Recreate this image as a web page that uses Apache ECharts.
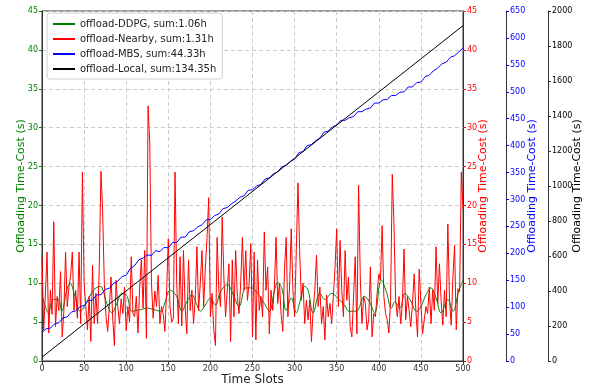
<!DOCTYPE html>
<html>
<head>
<meta charset="utf-8">
<script src="https://cdn.jsdelivr.net/npm/echarts@6/dist/echarts.min.js"></script>
<style>
  html, body { margin: 0; padding: 0; background: #fff; }
  #main { width: 593px; height: 388px; }
</style>
</head>
<body>
<div id="main"></div>
<script>
// legend names
const names = ['offload-DDPG, sum:1.06h', 'offload-Nearby, sum:1.31h', 'offload-MBS, sum:44.33h', 'offload-Local, sum:134.35h'];

// DDPG (green, left axis, s) read at these slots
const ddpgSlots = [0, 4, 7.5, 13.5, 19.4, 23.4, 29.4, 33.3, 39.3, 45.3, 53.2, 61, 69, 77, 83, 89, 95, 101, 107, 117, 125, 133, 141, 146, 152, 160, 166, 172, 178, 184, 188, 194, 200, 206, 212, 220, 228, 234, 242, 248, 256, 264, 270, 276, 280, 285, 290, 296, 302, 306, 312, 316, 322, 330, 336, 344, 351, 359, 365, 373, 383, 389, 395, 403, 409, 415, 419, 425, 431, 437, 445, 450, 456, 462, 468, 474, 482, 488, 495, 500];
const ddpgCost = [8.5, 7.0, 6.2, 7.9, 7.9, 6.4, 9.1, 10.0, 8.3, 6.4, 7.6, 9.1, 9.6, 7.4, 6.2, 7.4, 8.7, 8.3, 6.4, 6.6, 6.8, 6.6, 6.4, 7.5, 9.1, 8.3, 6.4, 7.6, 8.5, 7.2, 6.4, 7.2, 8.1, 7.2, 8.9, 9.8, 8.3, 7.0, 9.4, 9.4, 8.7, 7.4, 6.4, 9.0, 10.1, 9.3, 6.5, 8.1, 6.2, 7.5, 9.6, 9.1, 6.2, 8.7, 7.9, 8.7, 8.1, 7.2, 6.4, 6.4, 8.3, 7.6, 6.2, 10.4, 8.9, 6.8, 7.6, 6.8, 8.7, 7.9, 6.4, 7.0, 8.5, 9.4, 8.1, 6.2, 7.9, 6.4, 9.0, 10.4];

// Nearby (red, right axis, s), one value every 2 slots from 0 to 500
const nearbyStep = 2;
const nearbyCost = [
  13.4, 4.0, 8.5, 14.0, 3.6, 9.1, 6.0, 17.9, 4.4, 8.3, 6.5, 11.5, 3.1, 6.5, 14.0, 7.0, 9.5, 11.0, 14.0, 6.5,
  9.1, 5.5, 14.0, 4.8, 24.3, 10.0, 7.0, 4.0, 8.3, 2.5, 12.3, 4.8, 8.7, 4.8, 12.0, 24.4, 19.4, 10.0, 5.7, 3.8,
  7.0, 10.8, 5.5, 2.0, 10.4, 7.0, 4.8, 8.0, 6.1, 9.5, 3.9, 7.0, 5.0, 13.4, 6.1, 5.7, 8.3, 3.6, 9.5, 13.0,
  6.8, 14.2, 2.9, 32.8, 28.0, 10.0, 5.5, 9.0, 7.0, 11.0, 4.8, 7.0, 6.0, 3.8, 9.0, 15.7, 7.0, 5.0, 5.5, 24.3,
  10.0, 4.8, 13.4, 4.5, 14.2, 7.0, 3.5, 13.0, 6.5, 9.1, 4.8, 8.0, 14.7, 6.5, 10.0, 14.2, 7.0, 12.0, 15.9, 21.0,
  5.7, 8.7, 4.0, 2.0, 15.9, 9.1, 7.0, 18.5, 10.8, 5.7, 9.1, 12.5, 2.5, 13.0, 5.7, 14.2, 8.3, 6.1, 10.0, 15.9,
  9.1, 14.2, 7.8, 10.0, 15.1, 3.1, 14.0, 2.7, 13.0, 6.5, 8.3, 5.7, 16.6, 9.1, 12.1, 3.5, 9.1, 6.5, 9.5, 15.9,
  7.4, 10.0, 6.0, 3.8, 11.7, 15.9, 5.7, 9.5, 17.0, 9.1, 5.7, 14.2, 22.9, 14.2, 7.8, 10.0, 4.8, 7.8, 5.3, 7.8,
  2.5, 6.5, 9.1, 13.6, 7.0, 9.5, 4.8, 7.0, 2.7, 8.5, 5.7, 7.4, 4.8, 8.3, 12.0, 17.0, 7.0, 15.5, 9.1, 5.7,
  14.2, 7.8, 10.8, 4.4, 3.1, 8.3, 13.4, 3.5, 22.6, 10.8, 4.8, 8.3, 7.4, 4.0, 5.3, 12.1, 3.1, 6.1, 5.7, 8.7,
  11.2, 10.4, 17.4, 8.3, 6.1, 5.3, 3.6, 7.8, 24.0, 17.6, 7.8, 5.7, 8.3, 4.8, 7.4, 14.4, 5.3, 8.3, 6.5, 4.4,
  7.4, 11.2, 6.5, 3.1, 11.8, 7.4, 3.5, 5.3, 7.0, 6.1, 9.5, 4.8, 9.1, 6.5, 14.7, 7.4, 12.5, 7.8, 4.6, 9.1,
  5.7, 17.6, 7.8, 4.6, 10.8, 14.9, 4.0, 9.3, 8.9, 24.3, 19.5
];

// MBS (blue axis, s), one value every 5 slots
const mbsStep = 5;
const mbsCost = [
  53, 60, 61, 69, 71, 80, 82, 91, 93, 101, 103, 112, 113, 123, 123, 133, 135, 144, 148, 157,
  159, 172, 177, 188, 191, 197, 196, 205, 203, 211, 210, 220, 220, 230, 230, 240, 242, 249, 253, 262,
  263, 270, 273, 283, 285, 292, 297, 304, 307, 317, 318, 325, 328, 338, 340, 348, 351, 361, 363, 371,
  375, 387, 389, 400, 402, 409, 414, 425, 427, 435, 438, 447, 447, 452, 454, 463, 463, 468, 470, 479,
  479, 485, 486, 493, 493, 499, 500, 509, 509, 517, 518, 528, 531, 539, 544, 552, 555, 564, 567, 574, 581
];

// Local (black axis, s): straight line, start and end
const localSlots = [0, 500];
const localCost = [22, 1916];

const font = 'DejaVu Sans';
const green = '#008000', red = '#ff0000', blue = '#0000ff', black = '#000000';

function yAx(max, interval, color, offset, position, showSplit, nameGap) {
  return {
    type: 'value', min: 0, max: max, interval: interval, position: position, offset: offset,
    name: 'Offloading Time-Cost (s)', nameLocation: 'middle', nameGap: nameGap, nameMoveOverlap: false,
    nameTextStyle: { color: color, fontSize: 11, fontFamily: font },
    axisLine: { show: true, lineStyle: { color: '#333', width: 1 } },
    axisTick: { show: true, length: 3, lineStyle: { color: color === black ? '#333' : color } },
    axisLabel: { color: color, fontSize: 8, fontFamily: font, margin: 4, formatter: v => String(v) },
    splitLine: { show: showSplit, lineStyle: { color: '#cccccc', type: [4, 3], width: 1 } }
  };
}

const chart = echarts.init(document.getElementById('main'), null, { renderer: 'canvas' });
chart.setOption({
  animation: false,
  grid: { left: 42, right: 130, top: 11, bottom: 27, containLabel: false, outerBoundsMode: 'none',
    show: true, borderColor: '#333', borderWidth: 1 },
  legend: {
    orient: 'vertical', left: 47, top: 13, itemWidth: 22, itemHeight: 2, itemGap: 3,
    padding: [5, 6, 4, 6], borderColor: '#d0d0d0', borderWidth: 1, borderRadius: 3,
    backgroundColor: 'rgba(255,255,255,0.85)', icon: 'rect',
    textStyle: { fontSize: 10, fontFamily: font, color: '#222', lineHeight: 12 },
    data: names
  },
  xAxis: {
    type: 'value', min: 0, max: 500, interval: 50,
    name: 'Time Slots', nameLocation: 'middle', nameGap: 13, nameMoveOverlap: false,
    nameTextStyle: { color: '#222', fontSize: 12, fontFamily: font },
    axisLine: { lineStyle: { color: '#333' } },
    axisTick: { length: 3, lineStyle: { color: '#333' } },
    axisLabel: { color: '#333', fontSize: 8, fontFamily: font, margin: 4 },
    splitLine: { show: true, lineStyle: { color: '#cccccc', type: [4, 3], width: 1 } }
  },
  yAxis: [
    yAx(45, 5, green, 0, 'left', true, 15),
    yAx(45, 5, red, 0, 'right', false, 15),
    yAx(650, 50, blue, 43, 'right', false, 21),
    yAx(2000, 200, black, 85, 'right', false, 24)
  ],
  series: [
    { name: names[0], type: 'line', yAxisIndex: 0, symbol: 'none', smooth: 0.4,
      lineStyle: { color: green, width: 1 }, itemStyle: { color: green },
      data: ddpgSlots.map((x, i) => [x, ddpgCost[i]]) },
    { name: names[1], type: 'line', yAxisIndex: 1, symbol: 'none',
      lineStyle: { color: red, width: 1 }, itemStyle: { color: red },
      data: nearbyCost.map((v, i) => [i * nearbyStep, v]) },
    { name: names[2], type: 'line', yAxisIndex: 2, symbol: 'none',
      lineStyle: { color: blue, width: 1 }, itemStyle: { color: blue },
      data: mbsCost.map((v, i) => [i * mbsStep, v]) },
    { name: names[3], type: 'line', yAxisIndex: 3, symbol: 'none',
      lineStyle: { color: black, width: 1 }, itemStyle: { color: black },
      data: localSlots.map((x, i) => [x, localCost[i]]) }
  ]
});
</script>
</body>
</html>
